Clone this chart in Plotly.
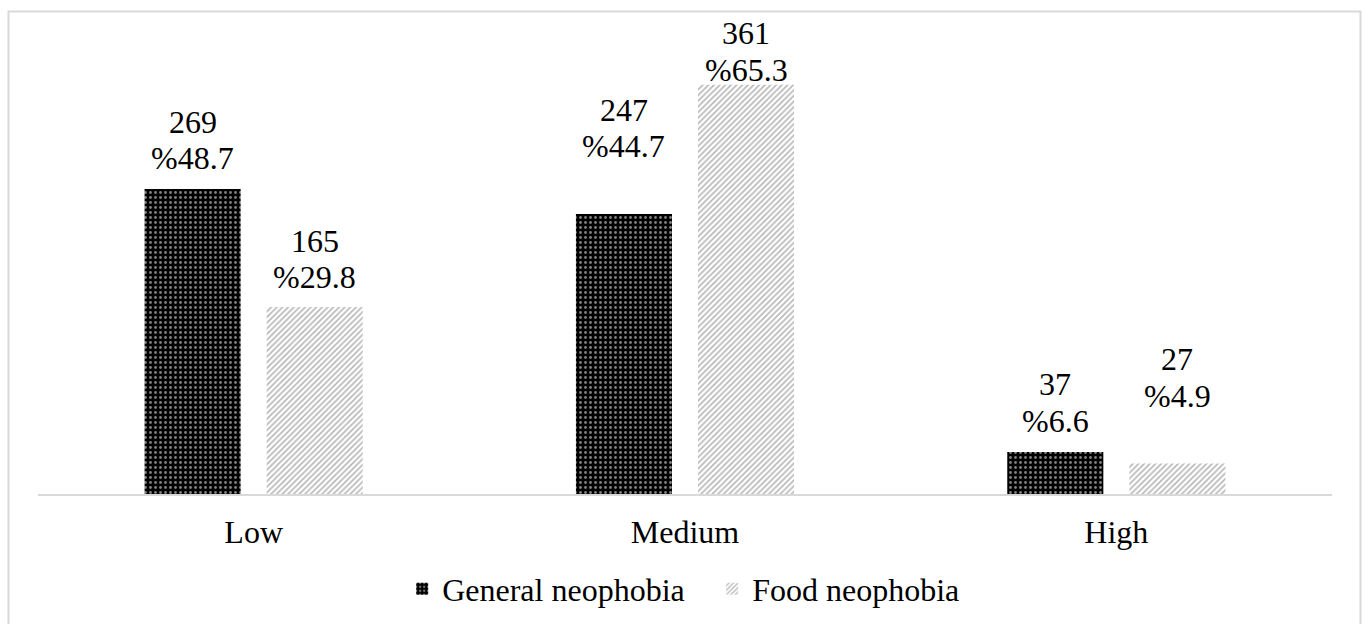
import plotly.graph_objects as go

# Neophobia levels and counts / percentages per scale
levels = ["Low", "Medium", "High"]
general_counts = [269, 247, 37]
general_pct = [48.7, 44.7, 6.6]
food_counts = [165, 361, 27]
food_pct = [29.8, 65.3, 4.9]

# Label lift above each bar top (px), per level
general_lift = [20, 57, 21]
food_lift = [19, 4, 57]

FONT = "Liberation Serif, Times New Roman, serif"
FS = 32
GRID = "#d9d9d9"
BARGAP = 0.434
BARGROUPGAP = 0.213

fig = go.Figure()
fig.add_trace(go.Bar(
    name="General neophobia", x=levels, y=general_counts,
    marker=dict(color="black", line=dict(width=0),
                pattern=dict(shape=".", fgcolor="white", bgcolor="black",
                             size=5, solidity=0.25)),
))
fig.add_trace(go.Bar(
    name="Food neophobia", x=levels, y=food_counts,
    marker=dict(color="white", line=dict(width=0),
                pattern=dict(shape="/", fgcolor="#6e6e6e", bgcolor="white",
                             size=4, solidity=0.4)),
))

# Two-line value labels (count over percentage) above every bar
half = (1 - BARGAP) / 4
annotations = []
for counts, pcts, lifts, side in [
        (general_counts, general_pct, general_lift, -1),
        (food_counts, food_pct, food_lift, 1)]:
    for i, (c, p, lift) in enumerate(zip(counts, pcts, lifts)):
        xpos = i + side * half
        annotations.append(dict(x=xpos, y=c, xref="x", yref="y", text=f"%{p}",
                                showarrow=False, yanchor="middle",
                                yshift=lift + 10.5,
                                font=dict(family=FONT, size=FS, color="black")))
        annotations.append(dict(x=xpos, y=c, xref="x", yref="y", text=str(c),
                                showarrow=False, yanchor="middle",
                                yshift=lift + 47.2,
                                font=dict(family=FONT, size=FS, color="black")))

fig.update_layout(
    width=1368, height=624,
    margin=dict(l=38, r=36, t=20, b=130),
    paper_bgcolor="white", plot_bgcolor="white",
    barmode="group", bargap=BARGAP, bargroupgap=BARGROUPGAP,
    font=dict(family=FONT, size=FS, color="black"),
    xaxis=dict(showline=True, linecolor=GRID, linewidth=2, showgrid=False,
               ticks="", ticklabelstandoff=9, automargin=False,
               tickfont=dict(family=FONT, size=FS, color="black"),
               zeroline=False),
    yaxis=dict(visible=False, range=[0, 418], showgrid=False, zeroline=False,
               automargin=False),
    showlegend=True,
    legend=dict(orientation="h", x=0.521, xanchor="center",
                yref="container", y=0.056, yanchor="middle",
                entrywidth=265, entrywidthmode="pixels",
                font=dict(family=FONT, size=FS, color="black"),
                bgcolor="rgba(0,0,0,0)"),
    annotations=annotations,
    shapes=[dict(type="rect", xref="paper", yref="paper",
                 x0=-0.0228, x1=1.022, y0=-0.35, y1=1.018,
                 line=dict(color=GRID, width=2), fillcolor="rgba(0,0,0,0)",
                 layer="below")],
)

fig.write_html("out.html")
